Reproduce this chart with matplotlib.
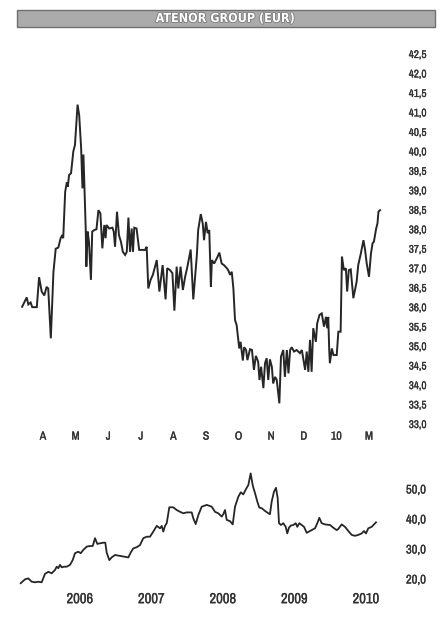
import numpy as np
import matplotlib
matplotlib.use('Agg')
import matplotlib.pyplot as plt
from matplotlib.patches import Rectangle
import matplotlib.patheffects as pe

plt.rcParams['font.family'] = ['Archivo Narrow', 'Liberation Sans', 'DejaVu Sans']

# --- top chart : last 12 months (x in months, April 2009 = 0) ---
month_labels = ['A', 'M', 'J', 'J', 'A', 'S', 'O', 'N', 'D', '10', 'M']
t_year = [-0.64, -0.50, -0.45, -0.38, -0.33, -0.19, -0.12, -0.04, 0.04, 0.11,
          0.16, 0.24, 0.32, 0.39, 0.47, 0.54, 0.59, 0.62, 0.68, 0.73,
          0.76, 0.80, 0.86, 0.93, 0.98, 1.06, 1.11, 1.17, 1.21, 1.24,
          1.27, 1.31, 1.33, 1.37, 1.41, 1.47, 1.51, 1.57, 1.64, 1.70,
          1.76, 1.82, 1.88, 1.92, 1.95, 2.03, 2.13, 2.17, 2.21, 2.27,
          2.33, 2.39, 2.45, 2.52, 2.57, 2.62, 2.67, 2.72, 2.76, 2.80,
          2.87, 2.95, 3.08,
          3.13, 3.18, 3.23, 3.30, 3.37, 3.49, 3.57, 3.67, 3.76, 3.81,
          3.90, 3.97, 4.03, 4.10, 4.15, 4.22, 4.29, 4.36, 4.43, 4.53,
          4.61, 4.72, 4.76, 4.84, 4.90, 4.94, 5.00, 5.05, 5.10, 5.15,
          5.18, 5.25, 5.33, 5.41, 5.48, 5.55, 5.64, 5.68, 5.74, 5.79,
          5.84,
          5.89, 5.94, 5.99, 6.02, 6.06, 6.13, 6.17, 6.23, 6.27, 6.35,
          6.41, 6.47, 6.53, 6.60, 6.64, 6.69, 6.76, 6.81, 6.86, 6.91,
          6.96, 7.02, 7.06, 7.12, 7.17, 7.25, 7.30, 7.37, 7.42, 7.48,
          7.53, 7.58, 7.63, 7.70, 7.78, 7.88, 7.94, 7.99, 8.04, 8.09,
          8.14, 8.19, 8.24, 8.29, 8.37, 8.41, 8.48, 8.55, 8.62, 8.68,
          8.72, 8.75,
          8.78, 8.80, 8.86, 8.91, 9.01, 9.06, 9.13, 9.17, 9.23, 9.29,
          9.33, 9.38, 9.44, 9.52, 9.62, 9.67, 9.75, 9.83, 9.88, 9.93,
          10.00, 10.06, 10.11, 10.15, 10.22, 10.26, 10.29, 10.34]
price_year = [36.01, 36.25, 36.07, 36.12, 36.0, 36.0, 36.77, 36.4, 36.3, 36.52,
              36.48, 35.2, 36.9, 37.5, 37.53, 37.77, 37.85, 37.77, 38.96, 39.2,
              39.09, 39.39, 39.44, 40.0, 40.16, 41.2, 40.93, 40.08, 39.05, 39.92,
              39.14, 38.02, 37.04, 37.94, 37.68, 36.70, 37.94, 37.98, 38.0, 38.49,
              38.41, 37.51, 38.11, 37.77, 38.11, 38.02, 38.04, 37.94, 37.55, 38.45,
              37.85, 37.68, 37.42, 37.34, 37.42, 38.30, 37.42, 38.02, 37.42, 38.04,
              38.02, 37.47, 37.47,
              37.47, 37.55, 36.48, 36.70, 36.83, 37.21, 36.40, 37.08, 36.20, 37.00,
              36.95, 36.87, 35.91, 37.04, 36.48, 37.04, 36.44, 36.78, 37.04, 37.48,
              36.20, 37.34, 37.98, 38.39, 38.15, 37.72, 38.19, 37.90, 37.98, 36.52,
              37.21, 37.12, 37.25, 37.40, 37.12, 37.08, 37.0, 36.95, 36.83, 36.91,
              36.48,
              35.67, 35.54, 35.16, 34.94, 35.11, 34.63, 34.97, 34.90, 34.64, 34.92,
              34.90, 34.39, 34.75, 34.60, 34.13, 34.47, 33.92, 34.56, 34.69, 34.13,
              34.66, 34.47, 34.04, 34.21, 34.13, 33.53, 34.73, 34.90, 34.21, 34.90,
              34.30, 34.90, 34.97, 34.86, 34.90, 34.82, 34.90, 34.64, 34.39, 34.86,
              34.34, 35.16, 34.34, 35.46, 35.11, 35.58, 35.80, 35.84, 35.50, 35.75,
              35.46, 35.75,
              34.90, 34.56, 34.94, 34.77, 34.77, 35.37, 35.37, 37.30, 36.95, 37.0,
              36.40, 36.95, 36.97, 36.23, 36.65, 37.08, 37.38, 37.72, 37.47, 37.12,
              36.78, 37.38, 37.64, 37.68, 38.02, 38.15, 38.45, 38.49]

# --- bottom chart : 5 years (x in years) ---
year_labels = ['2006', '2007', '2008', '2009', '2010']
t_5y = [2005.171, 2005.231, 2005.277, 2005.324, 2005.371, 2005.417, 2005.464, 2005.510, 2005.557, 2005.604,
        2005.650, 2005.674, 2005.697, 2005.720, 2005.744, 2005.776, 2005.814, 2005.860, 2005.898, 2005.930,
        2005.976, 2006.010, 2006.046, 2006.094, 2006.140, 2006.178, 2006.210, 2006.242, 2006.280, 2006.326,
        2006.354, 2006.373, 2006.410, 2006.443, 2006.490, 2006.559, 2006.629, 2006.676, 2006.709, 2006.745,
        2006.793, 2006.839, 2006.885, 2006.933, 2006.979, 2007.025, 2007.073, 2007.119, 2007.143, 2007.165,
        2007.189, 2007.213, 2007.249, 2007.305, 2007.352, 2007.399, 2007.445, 2007.492, 2007.562, 2007.585,
        2007.618, 2007.655, 2007.702, 2007.772, 2007.818,
        2007.842, 2007.888, 2007.934, 2007.982, 2008.004, 2008.028, 2008.052, 2008.098, 2008.136, 2008.168,
        2008.214, 2008.248, 2008.284, 2008.322, 2008.354, 2008.387, 2008.415, 2008.448, 2008.480, 2008.508,
        2008.541, 2008.587, 2008.634, 2008.657, 2008.681, 2008.713, 2008.741, 2008.765, 2008.783, 2008.811,
        2008.843, 2008.877, 2008.899, 2008.923, 2008.947, 2008.983, 2009.017, 2009.039, 2009.067, 2009.101,
        2009.133, 2009.171, 2009.217, 2009.287, 2009.319, 2009.347, 2009.380, 2009.427, 2009.497, 2009.543,
        2009.590, 2009.613, 2009.660, 2009.706, 2009.753, 2009.800, 2009.846, 2009.892, 2009.940, 2009.972,
        2010.000, 2010.032, 2010.080, 2010.112, 2010.140]
price_5y = [18.6, 19.9, 20.2, 19.1, 18.9, 19.1, 18.9, 21.7, 22.4, 21.9,
            23.0, 24.1, 23.6, 24.7, 23.9, 24.1, 24.1, 24.7, 26.3, 28.6,
            29.1, 28.6, 29.7, 30.8, 31.0, 31.0, 33.6, 31.7, 31.9, 32.1,
            32.1, 28.8, 26.3, 27.2, 28.0, 27.7, 27.4, 27.2, 28.8, 30.2,
            30.6, 31.3, 33.6, 34.1, 34.1, 35.8, 37.7, 36.9, 37.7, 35.8,
            37.7, 38.6, 43.9, 43.9, 43.0, 42.4, 41.9, 42.2, 42.2, 40.2,
            38.3, 41.3, 44.1, 44.7, 44.3,
            44.1, 42.4, 41.9, 40.8, 41.6, 43.0, 39.7, 39.3, 38.2, 44.1,
            47.4, 48.9, 48.2, 50.0, 51.3, 55.2, 51.3, 48.6, 45.8, 43.8,
            43.6, 42.7, 41.9, 41.6, 45.8, 49.1, 50.4, 46.9, 38.6, 38.0,
            38.6, 37.4, 35.2, 37.1, 37.8, 38.0, 38.6, 37.4, 38.6, 38.0,
            37.4, 35.4, 36.0, 36.9, 38.6, 40.4, 38.6, 38.2, 38.0, 37.1,
            36.3, 36.7, 38.2, 37.4, 36.0, 34.7, 34.4, 34.7, 35.2, 36.0,
            35.2, 36.9, 37.4, 38.2, 38.9]

line_col = '#262626'
txt_col = '#333333'
bold_fx = [pe.withStroke(linewidth=0.2, foreground=txt_col)]
W, H = 448, 644
fig = plt.figure(figsize=(W / 100, H / 100), dpi=100)
fig.patch.set_facecolor('white')

def frac_box(x0, y0, x1, y1):
    return [x0 / W, 1 - y1 / H, (x1 - x0) / W, (y1 - y0) / H]

# title bar
fig.patches.append(Rectangle((17 / W, 1 - 27 / H), 418 / W, 17 / H, transform=fig.transFigure,
                             facecolor='#ababab', edgecolor='#707070', lw=1.0))
title = fig.text(225 / W, 1 - 18.5 / H, 'ATENOR GROUP (EUR)', ha='center', va='center',
                 color='white', fontsize=9, fontweight='bold', fontstretch='condensed',
                 family=['DejaVu Sans'])
title.set_path_effects([pe.withStroke(linewidth=1.2, foreground='#7a7a7a')])

# top chart
ax1 = fig.add_axes(frac_box(15, 54, 390, 424))
ax1.plot(t_year, price_year, color=line_col, lw=1.4, solid_joinstyle='miter')
ax1.set_xlim((15 - 43) / 32.6, (390 - 43) / 32.6)
ax1.set_ylim(33, 42.5)
yt = np.arange(33, 42.51, 0.5)
ax1.yaxis.tick_right()
ax1.set_yticks(yt)
ax1.set_yticklabels([f'{v:.1f}'.replace('.', ',') for v in yt], fontsize=8, color=txt_col)
ax1.set_xticks(range(len(month_labels)))
ax1.set_xticklabels(month_labels, fontsize=8.5, color=txt_col)
ax1.tick_params(axis='y', length=0, pad=13.5)
ax1.tick_params(axis='x', length=0, pad=5.5)
for s in ax1.spines.values():
    s.set_visible(False)
ax1.set_facecolor('none')

# bottom chart
ax2 = fig.add_axes(frac_box(15, 471, 390, 588))
ax2.plot(t_5y, price_5y, color=line_col, lw=1.3)
ax2.set_xlim(2006 + (15 - 80) / 71.5, 2006 + (390 - 80) / 71.5)
ax2.set_ylim(17, 56)
ax2.yaxis.tick_right()
ax2.set_yticks([20, 30, 40, 50])
ax2.set_yticklabels(['20,0', '30,0', '40,0', '50,0'], fontsize=9, color=txt_col)
ax2.set_xticks([2006, 2007, 2008, 2009, 2010])
ax2.set_xticklabels(year_labels, fontsize=10.5, color=txt_col)
ax2.tick_params(axis='y', length=0, pad=11.5)
ax2.tick_params(axis='x', length=0, pad=3)
for s in ax2.spines.values():
    s.set_visible(False)
ax2.set_facecolor('none')

for ax in (ax1, ax2):
    for lab in ax.get_xticklabels() + ax.get_yticklabels():
        lab.set_path_effects(bold_fx)

fig.savefig('out.png', dpi=100)
